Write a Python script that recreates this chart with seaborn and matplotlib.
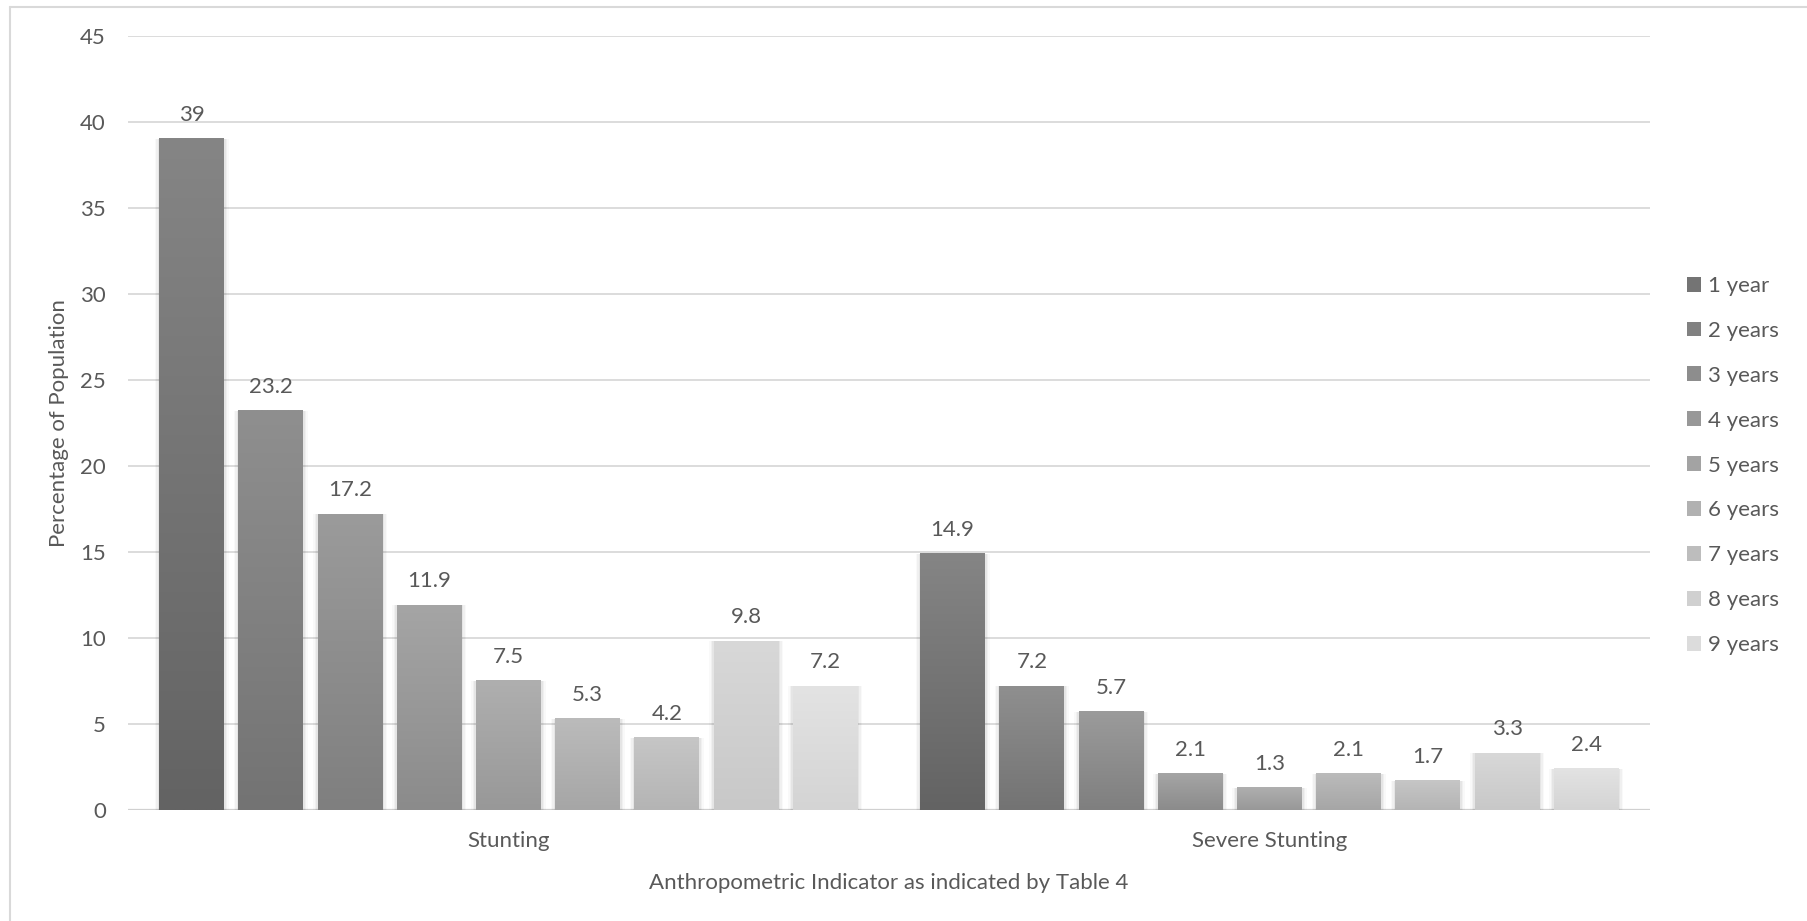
import numpy as np
import pandas as pd
import matplotlib
matplotlib.use("Agg")
import matplotlib.pyplot as plt
from matplotlib.colors import LinearSegmentedColormap
from matplotlib.lines import Line2D
from matplotlib.patches import Patch
import seaborn as sns

# Data
indicators = ["Stunting", "Severe Stunting"]
ages = ["1 year", "2 years", "3 years", "4 years", "5 years",
        "6 years", "7 years", "8 years", "9 years"]
stunting = [39, 23.2, 17.2, 11.9, 7.5, 5.3, 4.2, 9.8, 7.2]
severe_stunting = [14.9, 7.2, 5.7, 2.1, 1.3, 2.1, 1.7, 3.3, 2.4]
y_ticks = [0, 5, 10, 15, 20, 25, 30, 35, 40, 45]

# Grey ramp per age: (bottom, top) of each bar's vertical gradient
bottom_colors = ["#636363", "#737373", "#7f7f7f", "#8b8b8b", "#989898",
                 "#a6a6a6", "#b4b4b4", "#c8c8c8", "#d4d4d4"]
top_colors = ["#858585", "#8f8f8f", "#9b9b9b", "#a5a5a5", "#afafaf",
              "#bbbbbb", "#c6c6c6", "#d8d8d8", "#e3e3e3"]

df = pd.DataFrame({
    "indicator": np.repeat(indicators, len(ages)),
    "age": ages * len(indicators),
    "value": stunting + severe_stunting,
})

sns.set_theme(style="white")
text_color = "#595959"
fs = 16
plt.rcParams["font.family"] = ["Lato", "DejaVu Sans"]

W, H, DPI = 1807, 921, 100
fig = plt.figure(figsize=(W / DPI, H / DPI), dpi=DPI)
ax = fig.add_axes([128 / W, 1 - 810 / H, (1650 - 128) / W, (810 - 35.7) / H])

mid_colors = [
    tuple((np.array(matplotlib.colors.to_rgb(b)) + np.array(matplotlib.colors.to_rgb(t))) / 2)
    for b, t in zip(bottom_colors, top_colors)
]

sns.barplot(data=df, x="indicator", y="value", hue="age", hue_order=ages,
            order=indicators, palette=mid_colors, width=0.937, gap=0.18,
            legend=False, ax=ax, zorder=3, linewidth=0)

ax.yaxis.grid(True, color="#d9d9d9", linewidth=1.3, zorder=0)
ax.set_axisbelow(True)
for s in ax.spines.values():
    s.set_visible(False)
ax.axhline(0, color="#d0d0d0", linewidth=1.6, zorder=2)

# Vertical gradient fill and soft shadow for each bar
grad = np.linspace(0, 1, 256).reshape(-1, 1)
for i, cont in enumerate(ax.containers):
    cmap = LinearSegmentedColormap.from_list(f"g{i}", [bottom_colors[i], top_colors[i]])
    for bar in cont:
        x0 = bar.get_x()
        w = bar.get_width()
        h = bar.get_height()
        for k, a in zip([0.006, 0.004, 0.002], [0.025, 0.035, 0.045]):
            ax.add_patch(plt.Rectangle((x0 - k, 0), w + 2 * k, h, color="#000000",
                                       alpha=a, linewidth=0, zorder=2.5))
        ax.imshow(grad, extent=[x0, x0 + w, 0, h], origin="lower", aspect="auto",
                  cmap=cmap, zorder=3.5, interpolation="bilinear")
    ax.bar_label(cont, fmt="%g", padding=10, color=text_color, fontsize=fs,
                 zorder=5)
ax.set_xlim(-0.5, 1.5)
ax.set_ylim(0, 45)
ax.set_yticks(y_ticks)

ax.tick_params(axis="both", length=0, labelsize=fs, labelcolor=text_color)
ax.tick_params(axis="y", pad=16)
ax.tick_params(axis="x", pad=15)

ax.set_xlabel("Anthropometric Indicator as indicated by Table 4",
              fontsize=fs, color=text_color)
ax.xaxis.set_label_coords(0.5, -0.081)
ax.set_ylabel("Percentage of Population", fontsize=fs, color=text_color)
ax.yaxis.set_label_coords(-0.039, 0.5)

handles = [Patch(facecolor=c, edgecolor="none") for c in mid_colors]
leg = fig.legend(handles, ages, loc="center left",
                 bbox_to_anchor=(1687 / W, 1 - 465.5 / H), frameon=False,
                 fontsize=fs, handlelength=0.65, handleheight=0.65,
                 handletextpad=0.3, labelspacing=1.12, borderpad=0,
                 borderaxespad=0)
for t in leg.get_texts():
    t.set_color(text_color)

# Chart area border
fig.add_artist(Line2D([10 / W, 1], [1 - 7 / H, 1 - 7 / H], color="#d9d9d9",
                      linewidth=1.5, transform=fig.transFigure))
fig.add_artist(Line2D([10 / W, 10 / W], [0, 1 - 7 / H], color="#d9d9d9",
                      linewidth=1.5, transform=fig.transFigure))

fig.savefig("out.png", dpi=DPI, facecolor="white")
